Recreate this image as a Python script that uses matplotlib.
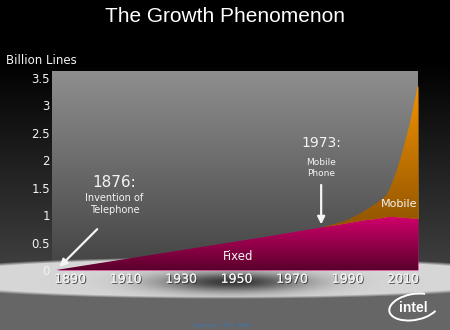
import numpy as np
import matplotlib
matplotlib.use("Agg")
import matplotlib.pyplot as plt
import matplotlib.patheffects as pe
from matplotlib.patches import Arc

# ---- data ----
years = [1885, 1900, 1920, 1940, 1960, 1980, 1984, 1990, 1995.6, 2000.6, 2004.2, 2005.3, 2007.8, 2010, 2012.5, 2015.4]
fixed = [0.0, 0.12, 0.28, 0.44, 0.60, 0.77, 0.80, 0.85, 0.90, 0.93, 0.96, 0.97, 0.96, 0.95, 0.94, 0.93]
mobile = [0.0, 0.0, 0.0, 0.0, 0.0, 0.0, 0.02, 0.06, 0.16, 0.29, 0.41, 0.52, 0.86, 1.24, 1.74, 2.44]
xticks = [1890, 1910, 1930, 1950, 1970, 1990, 2010]
yticks = [0, 0.5, 1, 1.5, 2, 2.5, 3, 3.5]
ytick_labels = ["0", "0.5", "1", "1.5", "2", "2.5", "3", "3.5"]

W, H = 450, 330
L, R, T, B = 52, 418, 71, 270
fig = plt.figure(figsize=(W / 100, H / 100), dpi=100)
fig.patch.set_facecolor("black")

# ---- background image (decoration) ----
bg = fig.add_axes([0, 0, 1, 1], zorder=0)
yy, xx = np.mgrid[0:H, 0:W].astype(float) + 0.5
base = np.clip((yy - 60) / 200.0, 0, 1) * 0.24
base = np.where(yy > 285, 0.40, base)
in_rect = (xx >= L) & (xx <= R) & (yy >= T) & (yy <= B)
plot_grad = 0.56 - (yy - T) / (B - T) * 0.30
base = np.where(in_rect, plot_grad, base)
cx, cy, a, b = 225.0, 278.0, 330.0, 21.0
r = np.sqrt(((xx - cx) / a) ** 2 + ((yy - cy) / b) ** 2)
ell = 0.84 - 0.62 * np.exp(-(((xx - 232) / 75.0) ** 2 + ((yy - 282) / 10.0) ** 2))
edge = np.clip((1.0 - r) / 0.12, 0, 1)
val = base * (1 - edge) + ell * edge
img = np.dstack([val, val, val])
bg.imshow(img, extent=[0, W, H, 0], aspect="auto", interpolation="bilinear")
bg.set_xlim(0, W)
bg.set_ylim(H, 0)
bg.axis("off")

# ---- main axes ----
ax = fig.add_axes([L / W, 1 - B / H, (R - L) / W, (B - T) / H], zorder=1)
ax.patch.set_alpha(0)
x0, x1 = 1883.5, 2015.4
y0, y1 = 0, 3.625

yrs = np.array(years)
fx = np.array(fixed)
mb = np.array(mobile)
tot = fx + mb

def grad_fill(lower, upper, c_top, c_bot, ytop, ybot):
    poly = ax.fill_between(yrs, lower, upper, color=c_top, linewidth=0, zorder=1)
    n = 256
    t = np.linspace(0, 1, n).reshape(-1, 1)
    ct = np.array(matplotlib.colors.to_rgb(c_top))
    cb = np.array(matplotlib.colors.to_rgb(c_bot))
    g = cb[None, None, :] * (1 - t[..., None]) + ct[None, None, :] * t[..., None]
    g = g[::-1]
    im = ax.imshow(g, extent=[x0, x1, ybot, ytop], aspect="auto", interpolation="bilinear", zorder=2)
    im.set_clip_path(poly.get_paths()[0], ax.transData)
    return poly

grad_fill(fx, tot, "#f49400", "#8a5000", 3.4, 0.6)
grad_fill(np.zeros_like(fx), fx, "#d4006c", "#5a002c", 1.0, 0.0)

ax.set_ylim(y0, y1)
ax.set_xlim(x0, x1)
for s in ax.spines.values():
    s.set_visible(False)
ax.set_xticks(xticks)
ax.set_xticklabels([str(v) for v in xticks])
ax.set_yticks(yticks)
ax.set_yticklabels(ytick_labels)
ax.tick_params(length=0, colors="#f2f2f2", labelsize=8.5)
ax.tick_params(axis="x", pad=2)
ax.tick_params(axis="y", pad=1.5)
shadow = [pe.withSimplePatchShadow(offset=(0.8, -0.8), shadow_rgbFace="#333333", alpha=0.8), pe.Normal()]
for lab in ax.get_xticklabels():
    lab.set_path_effects(shadow)
    lab.set_fontsize(9)

white = "#f4f4f4"
ax.text(1906, 1.6, "1876:", color=white, fontsize=11, ha="center", va="center")
ax.text(1906, 1.32, "Invention of", color=white, fontsize=7, ha="center", va="center")
ax.text(1906, 1.1, "Telephone", color=white, fontsize=7, ha="center", va="center")
ax.annotate("", xy=(1885.5, 0.02), xytext=(1900.5, 0.78),
            arrowprops=dict(arrowstyle="-|>", color=white, lw=1.6, mutation_scale=11))

ax.text(1980.5, 2.32, "1973:", color=white, fontsize=10, ha="center", va="center")
ax.text(1980.5, 1.95, "Mobile", color=white, fontsize=6.5, ha="center", va="center")
ax.text(1980.5, 1.75, "Phone", color=white, fontsize=6.5, ha="center", va="center")
ax.annotate("", xy=(1980.5, 0.78), xytext=(1980.5, 1.6),
            arrowprops=dict(arrowstyle="-|>", color=white, lw=1.6, mutation_scale=11))

ax.text(2008.5, 1.2, "Mobile", color=white, fontsize=8, ha="center", va="center")
ax.text(1950.5, 0.25, "Fixed", color=white, fontsize=8.5, ha="center", va="center")

# ---- figure texts ----
fig.text(0.5, 1 - 17 / H, "The Growth Phenomenon", color="white", fontsize=15,
         ha="center", va="center", family="Liberation Sans")
fig.text(6 / W, 1 - 60 / H, "Billion Lines", color=white, fontsize=8.5, ha="left", va="center")
fig.text(222 / W, 1 - 325 / H, "Source: CTIA, RHK", color="#3a78b8", fontsize=4.5,
         ha="center", va="center")

# intel logo
fig.text(413 / W, 1 - 308 / H, "intel", color="white", fontsize=10, ha="center", va="center",
         family="Liberation Sans", fontweight="bold")
bg.add_patch(Arc((414, 307), 50, 26, angle=-10, theta1=20, theta2=320, edgecolor="white", lw=1.4))

fig.savefig("out.png", dpi=100, facecolor=fig.get_facecolor())
